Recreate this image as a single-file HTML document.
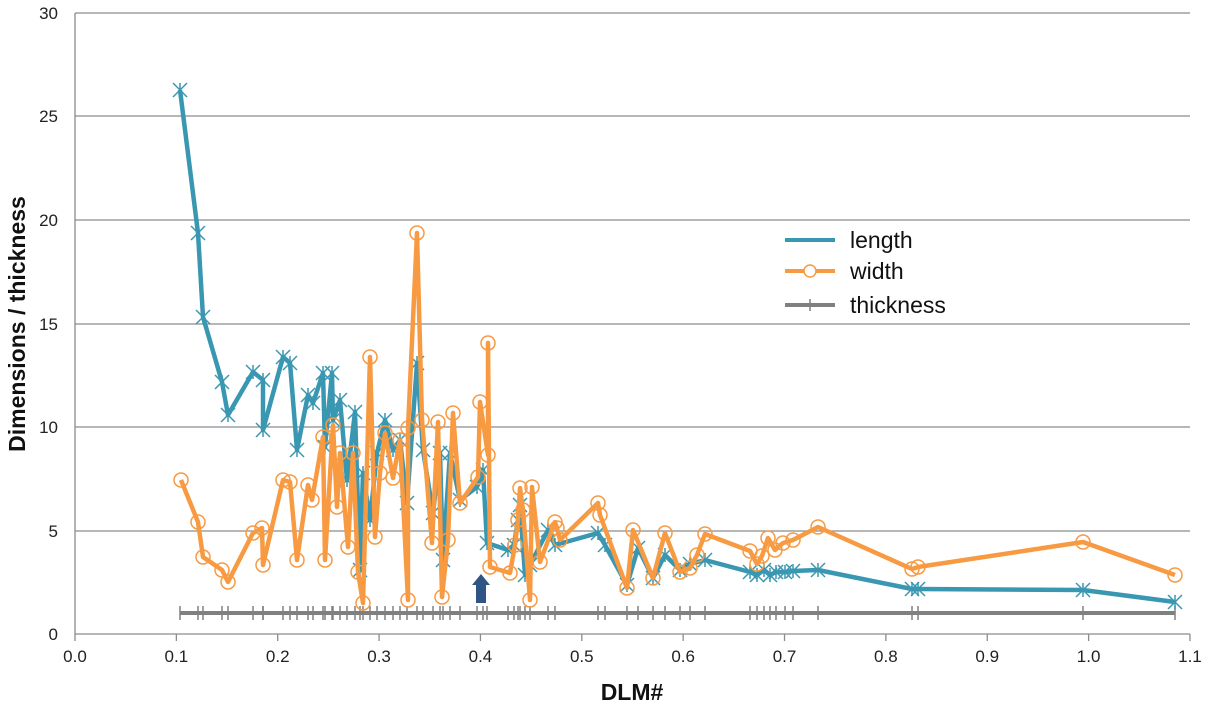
<!DOCTYPE html>
<html><head><meta charset="utf-8"><style>
html,body{margin:0;padding:0;background:#fff;}
svg{display:block;font-family:"Liberation Sans",Arial,sans-serif;}
</style></head><body>
<svg id="s" width="1209" height="708" viewBox="0 0 1209 708" xmlns="http://www.w3.org/2000/svg">
<g stroke="#8c8c8c" stroke-width="1.3">
<line x1="75" y1="13" x2="1190" y2="13"/>
<line x1="75" y1="116" x2="1190" y2="116"/>
<line x1="75" y1="220" x2="1190" y2="220"/>
<line x1="75" y1="324" x2="1190" y2="324"/>
<line x1="75" y1="427" x2="1190" y2="427"/>
<line x1="75" y1="531" x2="1190" y2="531"/>
<line x1="75" y1="634" x2="1190" y2="634"/>
<line x1="75" y1="13" x2="75" y2="634"/>
</g>
<g id="xt" stroke="#8c8c8c" stroke-width="1.3"></g>
<g font-size="17" fill="#222" text-anchor="end">
<text x="58" y="19">30</text><text x="58" y="122">25</text><text x="58" y="226">20</text>
<text x="58" y="330">15</text><text x="58" y="433">10</text><text x="58" y="537">5</text><text x="58" y="640">0</text>
</g>
<g id="xl" font-size="17" fill="#222" text-anchor="middle"></g>
<text x="632" y="700" font-size="23" font-weight="bold" text-anchor="middle" fill="#111">DLM#</text>
<text transform="translate(25,324) rotate(-90)" font-size="23" font-weight="bold" text-anchor="middle" fill="#111">Dimensions / thickness</text>
<g id="plot"></g>
<polygon points="476,603 486,603 486,585 490,585 481,574 472,585 476,585" fill="#2f5587"/>
<g font-size="23" fill="#111">
<line x1="785" y1="240" x2="835" y2="240" stroke="#3a97b2" stroke-width="4"/>
<text x="850" y="248">length</text>
<line x1="785" y1="271" x2="835" y2="271" stroke="#f79a42" stroke-width="4"/>
<circle cx="810" cy="271" r="6" fill="#fff" stroke="#f79a42" stroke-width="1.5"/>
<text x="850" y="279">width</text>
<line x1="785" y1="305" x2="835" y2="305" stroke="#808080" stroke-width="4"/>
<line x1="810" y1="299" x2="810" y2="311" stroke="#808080" stroke-width="1.5"/>
<text x="850" y="313">thickness</text>
</g>
</svg>
<script>
var NS="http://www.w3.org/2000/svg";
function el(p,t,a){var e=document.createElementNS(NS,t);for(var k in a)e.setAttribute(k,a[k]);p.appendChild(e);return e;}
var xt=document.getElementById('xt'),xl=document.getElementById('xl');
for(var i=0;i<=11;i++){var x=75+i*101.36;el(xt,'line',{x1:x,y1:634,x2:x,y2:641});var t=el(xl,'text',{x:x,y:662});t.textContent=(i/10).toFixed(1);}
var L=[[180,90],[198,233],[203,317],[222,382],[228,415],[253,372],[263,380],[263,430],[283,357],[290,363],[297,450],[308,395],[313,403],[323,373],[325,447],[332,373],[333,420],[340,400],[347,480],[355,412],[360,570],[363,473],[370,520],[377,453],[385,420],[393,450],[400,440],[407,503],[417,363],[423,450],[433,513],[440,453],[443,560],[450,453],[460,500],[477,487],[483,470],[487,543],[508,550],[514,545],[518,520],[520,505],[525,575],[530,565],[548,530],[555,545],[598,533],[605,545],[627,585],[638,548],[653,578],[665,555],[680,570],[690,564],[705,560],[750,572],[757,575],[764,570],[770,575],[776,572],[785,572],[793,571],[818,570],[912,589],[918,589],[1083,590],[1175,602]];
var W=[[181,480],[198,522],[203,557],[222,570],[228,582],[253,533],[262,528],[263,565],[283,480],[290,482],[297,560],[308,485],[312,500],[323,437],[325,560],[333,425],[337,507],[340,453],[348,547],[353,453],[358,572],[363,603],[370,357],[375,537],[380,473],[385,433],[393,478],[400,440],[408,600],[408,428],[417,233],[422,420],[432,543],[438,422],[442,597],[448,540],[453,413],[460,503],[478,477],[480,402],[488,455],[488,343],[490,567],[510,573],[515,545],[518,520],[520,488],[523,510],[530,600],[532,487],[540,562],[555,522],[557,528],[560,540],[598,503],[600,515],[627,588],[633,530],[653,578],[665,533],[680,572],[690,568],[697,555],[705,534],[750,551],[757,564],[762,556],[768,538],[775,550],[783,543],[793,540],[818,527],[912,569],[918,567],[1083,542],[1175,575]];
var g=document.getElementById('plot');
el(g,'line',{x1:180,y1:613,x2:1175,y2:613,stroke:'#808080','stroke-width':4});
L.forEach(function(p){el(g,'line',{x1:p[0],y1:606,x2:p[0],y2:620,stroke:'#808080','stroke-width':1.5});});
function pl(d,c){el(g,'polyline',{points:d.map(function(p){return p.join(',')}).join(' '),fill:'none',stroke:c,'stroke-width':4.5,'stroke-linejoin':'round'});}
pl(L,'#3a97b2');
L.forEach(function(p){var x=p[0],y=p[1],r=7;
el(g,'path',{d:'M'+(x-r)+' '+(y-r)+'L'+(x+r)+' '+(y+r)+'M'+(x-r)+' '+(y+r)+'L'+(x+r)+' '+(y-r)+'M'+x+' '+(y-r)+'L'+x+' '+(y+r),stroke:'#3a97b2','stroke-width':1.5});});
pl(W,'#f79a42');
W.forEach(function(p){el(g,'circle',{cx:p[0],cy:p[1],r:7,fill:'none',stroke:'#f79a42','stroke-width':1.5});});
</script>
</body></html>
